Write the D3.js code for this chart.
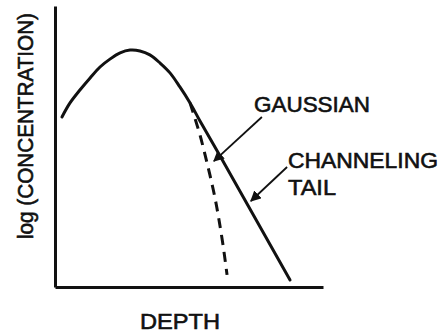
<!DOCTYPE html>
<html>
<head>
<meta charset="utf-8">
<script src="https://cdn.jsdelivr.net/npm/d3@7/dist/d3.min.js"></script>
<style>
  html, body { margin: 0; padding: 0; background: #fff; }
  svg { display: block; }
  text { font-family: "Liberation Sans", Arial, sans-serif; fill: #111; stroke: #111; stroke-width: 0.6px; }
</style>
</head>
<body>
<script>
// Depth profile: implanted-ion concentration (log scale) vs depth, arbitrary units.
const depthProfile = [2.6, 5.6, 9.3, 13.1, 16.8, 20.5, 24.3, 28.0, 31.7, 35.4, 39.2, 42.9, 46.6, 50.4, 54.1, 61.6, 87.7];
const logConcProfile = [60.5, 65.5, 70.1, 74.4, 78.3, 81.1, 83.3, 84.3, 84.0, 82.6, 79.7, 76.2, 71.2, 65.5, 59.1, 46.6, 2.5];

// Pure Gaussian fall-off beyond the point where the channeling tail separates.
const depthGaussian = [50.4, 52.2, 54.1, 56.0, 57.8, 59.7, 61.2, 62.7, 64.2];
const logConcGaussian = [65.5, 60.1, 54.1, 47.0, 39.9, 31.7, 23.8, 14.9, 4.3];

const labels = ["GAUSSIAN", "CHANNELING", "TAIL"];
const xTitle = "DEPTH";
const yTitle = "log (CONCENTRATION)";

const W = 441, H = 333;
const svg = d3.select("body").append("svg").attr("width", W).attr("height", H);

const x = d3.scaleLinear().domain([0, 100]).range([55, 323]);
const y = d3.scaleLinear().domain([0, 100]).range([287, 6]);

// Axes: plain lines, no ticks
const axisStyle = g => {
  g.select(".domain").attr("stroke", "#111").attr("stroke-width", 3);
  g.selectAll(".tick").remove();
};
svg.append("g").attr("transform", `translate(0,${y(0)})`)
  .call(d3.axisBottom(x).tickValues([]).tickSizeOuter(0)).call(axisStyle);
svg.append("g").attr("transform", `translate(${x(0)},0)`)
  .call(d3.axisLeft(y).tickValues([]).tickSizeOuter(0)).call(axisStyle);

const line = d3.line().x(d => x(d[0])).y(d => y(d[1])).curve(d3.curveCatmullRom.alpha(0.5));

svg.append("path")
  .datum(d3.zip(depthGaussian, logConcGaussian))
  .attr("d", line)
  .attr("fill", "none").attr("stroke", "#111").attr("stroke-width", 3)
  .attr("stroke-dasharray", "10,7");

svg.append("path")
  .datum(d3.zip(depthProfile, logConcProfile))
  .attr("d", line)
  .attr("fill", "none").attr("stroke", "#111").attr("stroke-width", 3)
  .attr("stroke-linecap", "round").attr("stroke-linejoin", "round");

// Leader arrows for the labels
svg.append("defs").append("marker")
  .attr("id", "head").attr("viewBox", "0 0 10 10").attr("refX", 9).attr("refY", 5)
  .attr("markerWidth", 6).attr("markerHeight", 6).attr("markerUnits", "strokeWidth")
  .attr("orient", "auto")
  .append("path").attr("d", "M0,0 L10,5 L0,10 Z").attr("fill", "#111");

const arrows = [
  { from: [77.2, 60.5], to: [59.3, 44.8] },
  { from: [86.6, 42.7], to: [73.1, 30.6] }
];
svg.selectAll("line.leader").data(arrows).join("line")
  .attr("class", "leader")
  .attr("x1", d => x(d.from[0])).attr("y1", d => y(d.from[1]))
  .attr("x2", d => x(d.to[0])).attr("y2", d => y(d.to[1]))
  .attr("stroke", "#111").attr("stroke-width", 1.8)
  .attr("marker-end", "url(#head)");

const fs = 22;
svg.append("text").attr("x", 254).attr("y", 112).attr("font-size", fs)
  .attr("textLength", 116).attr("lengthAdjust", "spacingAndGlyphs").text(labels[0]);
svg.append("text").attr("x", 288).attr("y", 168).attr("font-size", fs)
  .attr("textLength", 150).attr("lengthAdjust", "spacingAndGlyphs").text(labels[1]);
svg.append("text").attr("x", 288).attr("y", 195).attr("font-size", fs)
  .attr("textLength", 48).attr("lengthAdjust", "spacingAndGlyphs").text(labels[2]);

svg.append("text").attr("x", 140).attr("y", 329).attr("font-size", fs)
  .attr("textLength", 80).attr("lengthAdjust", "spacingAndGlyphs").text(xTitle);

svg.append("text")
  .attr("transform", "translate(33,126) rotate(-90)")
  .attr("text-anchor", "middle").attr("font-size", fs)
  .attr("textLength", 226).attr("lengthAdjust", "spacingAndGlyphs").text(yTitle);
</script>
</body>
</html>
